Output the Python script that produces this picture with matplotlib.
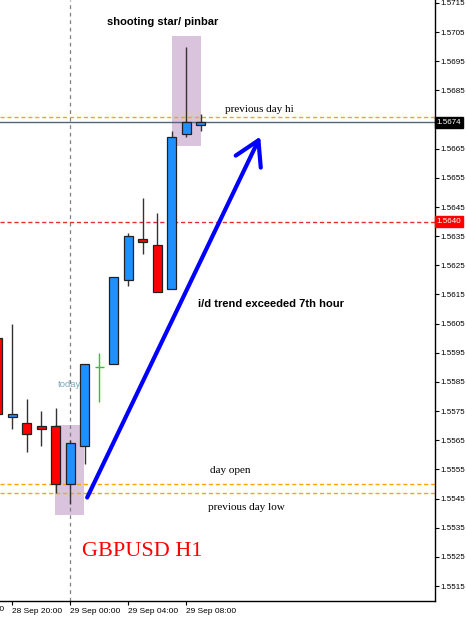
import matplotlib
matplotlib.use("Agg")
import matplotlib.pyplot as plt
from matplotlib.patches import Rectangle, FancyArrowPatch, ArrowStyle
import numpy as np

# hourly candles, hours relative to 29 Sep 00:00
hours = [-5, -4, -3, -2, -1, 0, 1, 2, 3, 4, 5, 6, 7, 8, 9]
opens = [1.5600, 1.5573, 1.5571, 1.5570, 1.5570, 1.5550, 1.5563, 1.5590,
         1.5591, 1.5620, 1.5634, 1.5632, 1.5617, 1.5670, 1.5673]
highs = [1.5603, 1.5605, 1.5579, 1.5575, 1.5576, 1.5565, 1.5591, 1.5595,
         1.5621, 1.5636, 1.5648, 1.5643, 1.5671, 1.5700, 1.5677]
lows = [1.5572, 1.5569, 1.5561, 1.5563, 1.5547, 1.5543, 1.5557, 1.5578,
        1.5591, 1.5618, 1.5629, 1.5616, 1.5617, 1.5669, 1.5671]
closes = [1.5574, 1.5574, 1.5567, 1.5569, 1.5550, 1.5564, 1.5591, 1.5590,
          1.5621, 1.5635, 1.5633, 1.5616, 1.5669, 1.5674, 1.5674]

xtick_hours = [-8, -4, 0, 4, 8]
xtick_labels = ["28 Sep 16:00", "28 Sep 20:00", "29 Sep 00:00", "29 Sep 04:00", "29 Sep 08:00"]
# 1.5675 is hidden behind the last-price box on the chart
ytick_values = [1.5515, 1.5525, 1.5535, 1.5545, 1.5555, 1.5565, 1.5575, 1.5585,
                1.5595, 1.5605, 1.5615, 1.5625, 1.5635, 1.5645, 1.5655, 1.5665,
                1.5685, 1.5695, 1.5705, 1.5715]

prev_day_hi = 1.5676
day_open = 1.5550
prev_day_low = 1.5547
red_level = 1.5640
last_price = 1.5674

# highlighted zones (hour from, hour to, price low, price high)
zones = [(-1.03, 0.97, 1.55394, 1.55702), (7.03, 9.03, 1.56659, 1.57037)]
# trend arrow (hour, price)
arrow_start = (1.1, 1.55445)
arrow_end = (13.2, 1.56700)

BLUE = "#1E90FF"
RED = "#FF0000"

fig = plt.figure(figsize=(4.66, 6.25), dpi=100)
ax = fig.add_axes([0, 24 / 625, 435 / 466, 601 / 625])
ax.set_xlim(-4.828, 25.17)
ax.set_ylim(1.550986, 1.57160)

for z in zones:
    ax.add_patch(Rectangle((z[0], z[2]), z[1] - z[0], z[3] - z[2],
                           facecolor="#DAC3DC", edgecolor="none", zorder=1))

# separator and levels
ax.axvline(0, color="#808080", lw=0.9, ls=(0, (3, 3)), zorder=1.5)
for lvl in [prev_day_hi, day_open, prev_day_low]:
    ax.axhline(lvl, color="#FFA500", lw=1, ls=(0, (3, 2)), zorder=1.5)
ax.axhline(red_level, color="#E03030", lw=1, ls=(0, (3, 2)), zorder=1.5)
ax.axhline(last_price, color="#50677A", lw=1, zorder=1.5)

w = 0.62
for h, o, hi, lo, c in zip(hours, opens, highs, lows, closes):
    if o == c:
        ax.vlines(h, lo, hi, color="#22CC22", lw=1, zorder=3)
        ax.hlines(o, h - w / 2, h + w / 2, color="#22CC22", lw=1, zorder=3)
        continue
    ax.vlines(h, lo, hi, color="#333333", lw=1, zorder=2)
    col = BLUE if c > o else RED
    ax.bar(h, abs(c - o), w, bottom=min(o, c), color=col, edgecolor="#222222",
           lw=0.9, zorder=3)

arr = FancyArrowPatch(arrow_start, arrow_end,
                      arrowstyle=ArrowStyle("->", head_length=17, head_width=10),
                      mutation_scale=1, color="#0000FF", lw=3, zorder=4)
ax.add_patch(arr)

# texts
ax.text(6.41, 1.57085, "shooting star/ pinbar", fontsize=8, fontweight="bold",
        family="Liberation Sans", ha="center", va="center")
ax.text(10.69, 1.56783, "previous day hi", fontsize=8, family="Liberation Serif",
        ha="left", va="center")
ax.text(8.83, 1.56117, "i/d trend exceeded 7th hour", fontsize=8, fontweight="bold",
        family="Liberation Sans", ha="left", va="center")
ax.text(-0.83, 1.5584, "today", fontsize=6.8, family="Liberation Sans",
        color="#78AABB", ha="left", va="center")
ax.text(9.66, 1.55545, "day open", fontsize=8, family="Liberation Serif",
        ha="left", va="center")
ax.text(9.52, 1.55421, "previous day low", fontsize=8, family="Liberation Serif",
        ha="left", va="center")
ax.text(0.83, 1.5527, "GBPUSD H1", fontsize=16, family="Liberation Serif",
        color="#FF0000", ha="left", va="center")

# axes styling
for s in ["left", "top"]:
    ax.spines[s].set_visible(False)
for s in ["right", "bottom"]:
    ax.spines[s].set_color("black")
    ax.spines[s].set_linewidth(1)

ax.yaxis.tick_right()
ax.set_yticks(ytick_values, [f"{v:.4f}" for v in ytick_values])
ax.tick_params(axis="y", length=3, pad=1.2, labelsize=5.8, labelfontfamily="Liberation Sans")
ax.set_xticks(xtick_hours[1:], xtick_labels[1:])
for lab in ax.get_xticklabels():
    lab.set_ha("left")
ax.tick_params(axis="x", length=3, pad=2, labelsize=6, labelfontfamily="Liberation Sans")
ax.text(xtick_hours[0], -0.008, xtick_labels[0], transform=ax.get_xaxis_transform(),
        ha="left", va="top", fontsize=6, family="Liberation Sans", clip_on=False)

# price labels on axis
ax.text(1.004, last_price, f"{last_price:.4f}", transform=ax.get_yaxis_transform(),
        color="white", fontsize=5.8, family="Liberation Sans", va="center", ha="left",
        bbox=dict(boxstyle="square,pad=0.25", fc="black", ec="black"), zorder=5, clip_on=False)
ax.text(1.004, red_level, f"{red_level:.4f}", transform=ax.get_yaxis_transform(),
        color="white", fontsize=5.8, family="Liberation Sans", va="center", ha="left",
        bbox=dict(boxstyle="square,pad=0.25", fc="#FF0000", ec="#FF0000"), zorder=5, clip_on=False)

fig.savefig("out.png", dpi=100)
